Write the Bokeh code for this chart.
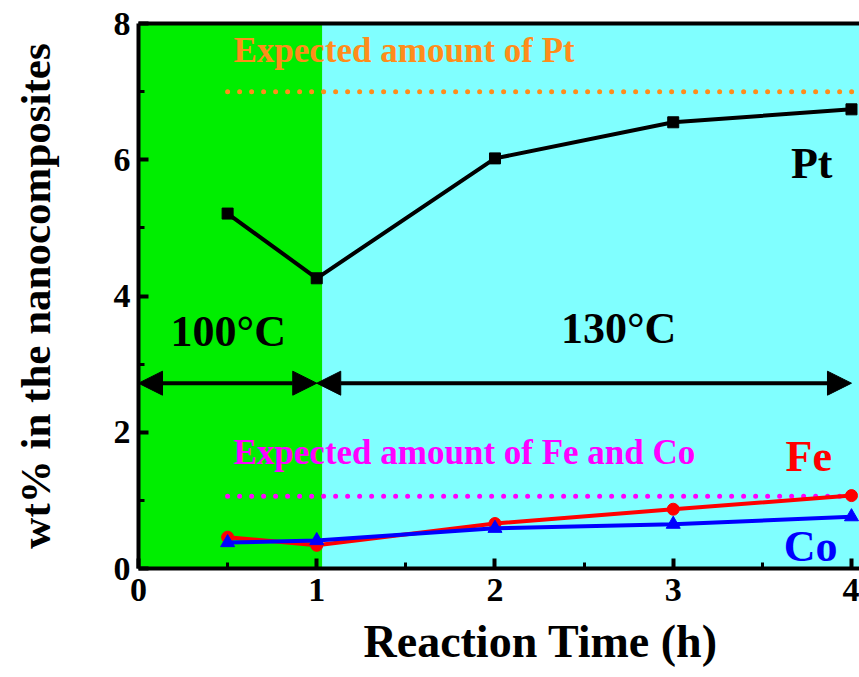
from bokeh.plotting import figure
from bokeh.models import (Range1d, LinearAxis, BoxAnnotation, Label, Arrow, NormalHead,
                          FixedTicker, Title)
from bokeh.embed import file_html
from bokeh.resources import INLINE

# ---- data ----
time_h = [0.5, 1, 2, 3, 4]
pt_wt = [5.21, 4.26, 6.02, 6.55, 6.74]
fe_wt = [0.46, 0.34, 0.66, 0.87, 1.07]
co_wt = [0.38, 0.41, 0.59, 0.65, 0.76]

expected_pt = 7.0
expected_feco = 1.06
expected_pt_x = [0.5, 4.05]
expected_feco_x = [0.5, 4.0]

stage_boundary = 1.03
stage_arrow_y = 2.72
stage1_x = [0, 1]
stage2_x = [1, 4]

x_major_ticks = [0, 1, 2, 3, 4]
x_minor_ticks = [0.5, 1.5, 2.5, 3.5]
y_major_ticks = [0, 2, 4, 6, 8]
y_minor_ticks = [1, 3, 5, 7]

FONT = "Liberation Serif"

p = figure(width=859, height=677, output_backend="svg", toolbar_location=None,
           x_range=Range1d(0, 4.045), y_range=Range1d(0, 8),
           min_border_left=138, min_border_right=0, min_border_top=23, min_border_bottom=109)
p.outline_line_color = None
p.grid.visible = False
p.background_fill_color = "#80FFFF"
p.border_fill_color = "white"

green = BoxAnnotation(left=0, right=stage_boundary, fill_color="#00EE00", fill_alpha=1,
                      line_color=None, level="underlay")
p.add_layout(green)

# axes styling
for ax in [p.xaxis[0], p.yaxis[0]]:
    ax.axis_line_width = 4
    ax.major_tick_line_width = 4
    ax.minor_tick_line_width = 3
    ax.major_tick_in = 10
    ax.major_tick_out = 0
    ax.minor_tick_in = 6
    ax.minor_tick_out = 0
    ax.major_label_text_font = FONT
    ax.major_label_text_font_style = "bold"
    ax.major_label_text_font_size = "34px"
    ax.major_label_text_color = "black"
    ax.axis_label_text_font = FONT
    ax.axis_label_text_font_style = "bold"
    ax.axis_label_text_color = "black"

p.xaxis[0].ticker = FixedTicker(ticks=x_major_ticks, minor_ticks=x_minor_ticks)
p.yaxis[0].ticker = FixedTicker(ticks=y_major_ticks, minor_ticks=y_minor_ticks)
p.xaxis[0].major_label_standoff = 10
p.yaxis[0].axis_label = "wt% in the nanocomposites"
p.yaxis[0].axis_label_text_font_size = "43px"
p.yaxis[0].axis_label_standoff = 52
p.yaxis[0].major_label_standoff = 8

xtitle = Title(text="Reaction Time (h)", align="left", offset=225, text_font=FONT,
               text_font_style="bold", text_font_size="46px", text_color="black",
               standoff=20)
p.add_layout(xtitle, "below")

top_axis = LinearAxis(axis_line_width=4, major_tick_line_color=None, minor_tick_line_color=None,
                      major_label_text_font_size="0px", major_label_standoff=0,
                      major_tick_out=0, major_tick_in=0, minor_tick_out=0)
p.add_layout(top_axis, "above")

# expected lines
p.line(expected_pt_x, [expected_pt] * 2, line_color="#FF8C1A", line_width=5,
       line_dash="0 12", line_cap="round")
p.line(expected_feco_x, [expected_feco] * 2, line_color="#FF00FF", line_width=5,
       line_dash="0 12", line_cap="round")

# stage arrows
for xs in [stage1_x, stage2_x]:
    p.add_layout(Arrow(x_start=xs[0], y_start=stage_arrow_y, x_end=xs[1], y_end=stage_arrow_y,
                       line_width=4, line_color="black",
                       start=NormalHead(size=24, fill_color="black", line_color="black"),
                       end=NormalHead(size=24, fill_color="black", line_color="black")))

# series
p.line(time_h, pt_wt, line_color="black", line_width=4)
p.scatter(time_h, pt_wt, marker="square", size=11, color="black")
p.line(time_h, fe_wt, line_color="#FF0000", line_width=4)
p.scatter(time_h, fe_wt, marker="circle", size=12, color="#FF0000")
p.line(time_h, co_wt, line_color="#0000FF", line_width=4)
p.scatter(time_h, co_wt, marker="triangle", size=14, color="#0000FF")

def lab(x, y, text, color, size):
    p.add_layout(Label(x=x, y=y, text=text, text_color=color, text_font=FONT,
                       text_font_style="bold", text_font_size=size,
                       text_baseline="alphabetic", text_align="left"))

lab(0.533, 7.61, "Expected amount of Pt", "#FF8C1A", "35px")
lab(0.533, 1.70, "Expected amount of Fe and Co", "#FF00FF", "35px")
lab(0.18, 3.48, "100°C", "black", "44px")
lab(2.37, 3.52, "130°C", "black", "44px")
lab(3.66, 5.95, "Pt", "black", "44px")
lab(3.63, 1.64, "Fe", "#FF0000", "44px")
lab(3.62, 0.32, "Co", "#0000FF", "44px")

open("out.html", "w").write(file_html(p, INLINE))
